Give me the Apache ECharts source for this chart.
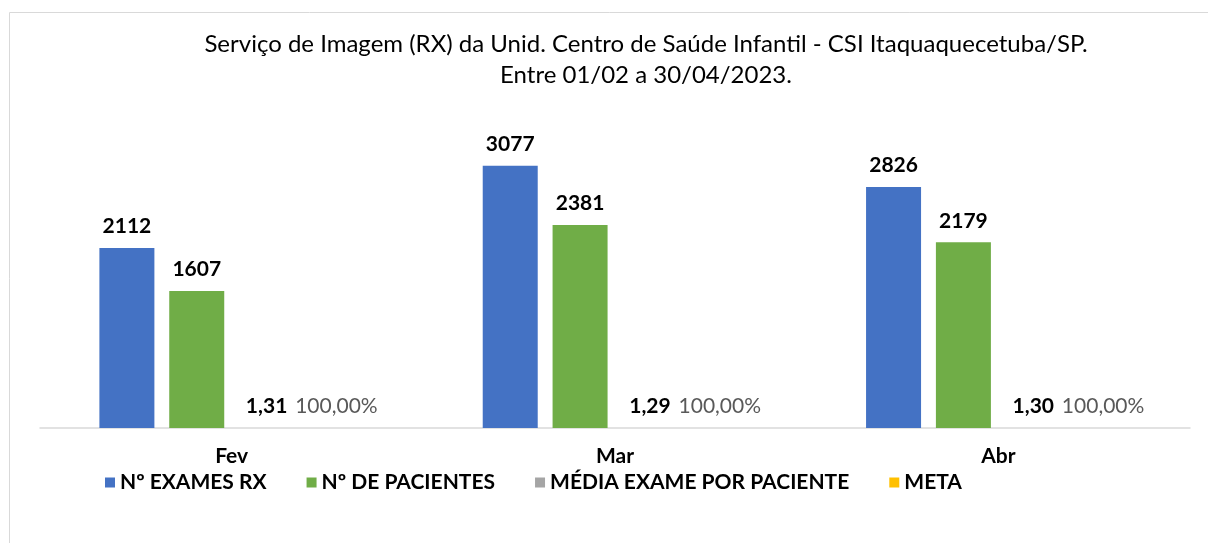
<!DOCTYPE html>
<html>
<head>
<meta charset="UTF-8">
<title>Serviço de Imagem (RX)</title>
<script src="https://cdn.jsdelivr.net/npm/echarts@6/dist/echarts.min.js"></script>
<style>
  html, body { margin: 0; padding: 0; background: #fff; }
  #main { width: 1208px; height: 543px; }
</style>
</head>
<body>
<div id="main"></div>
<script type="text/javascript">
    // dados do grafico
    var meses = ['Fev', 'Mar', 'Abr'];
    var examesRx = [2112, 3077, 2826];
    var pacientes = [1607, 2381, 2179];
    var mediaExame = [1.31, 1.29, 1.30];
    var meta = [1, 1, 1];

    var fonte = 'Lato, "Open Sans", sans-serif';

    function virgula(v, casas) {
        return v.toFixed(casas).replace('.', ',');
    }

    var myChart = echarts.init(document.getElementById('main'));

    var rotuloNegrito = {
        show: true,
        position: 'top',
        distance: 11,
        fontFamily: fonte,
        fontWeight: 'bold',
        fontSize: 21,
        color: '#000'
    };

    var option = {
        animation: false,
        textStyle: { fontFamily: fonte },
        title: {
            text: 'Serviço de Imagem (RX) da Unid. Centro de Saúde Infantil - CSI Itaquaquecetuba/SP.\nEntre 01/02 a 30/04/2023.',
            left: 641,
            top: 24,
            textAlign: 'center',
            textStyle: {
                fontFamily: fonte,
                fontWeight: 'normal',
                fontSize: 24,
                lineHeight: 31,
                color: '#000'
            }
        },
        graphic: [{
            type: 'rect',
            shape: { x: 9.5, y: 12.5, width: 1210, height: 560 },
            style: { fill: 'none', stroke: '#d9d9d9', lineWidth: 1 },
            silent: true
        }],
        legend: {
            data: ['Nº EXAMES RX', 'Nº DE PACIENTES', 'MÉDIA EXAME POR PACIENTE', 'META'],
            left: 100,
            top: 467,
            icon: 'rect',
            itemWidth: 10,
            itemHeight: 10,
            itemGap: 40,
            textStyle: {
                fontFamily: fonte,
                fontWeight: 'bold',
                fontSize: 21,
                color: '#000'
            }
        },
        grid: {
            left: 40,
            right: 18,
            top: 87,
            bottom: 115,
            containLabel: false
        },
        xAxis: {
            type: 'category',
            data: meses,
            axisLine: { lineStyle: { color: '#d9d9d9', width: 1.5 } },
            axisTick: { show: false },
            axisLabel: {
                margin: 18,
                fontFamily: fonte,
                fontWeight: 'bold',
                fontSize: 21,
                color: '#000'
            }
        },
        yAxis: {
            type: 'value',
            min: 0,
            max: 4000,
            show: false,
            splitLine: { show: false }
        },
        series: [{
            name: 'Nº EXAMES RX',
            type: 'bar',
            data: examesRx,
            barWidth: 55,
            barGap: '27%',
            itemStyle: { color: '#4472C4' },
            label: rotuloNegrito
        }, {
            name: 'Nº DE PACIENTES',
            type: 'bar',
            data: pacientes,
            barWidth: 55,
            itemStyle: { color: '#70AD47' },
            label: rotuloNegrito
        }, {
            name: 'MÉDIA EXAME POR PACIENTE',
            type: 'bar',
            data: mediaExame,
            barWidth: 55,
            itemStyle: { color: '#A5A5A5' },
            label: Object.assign({}, rotuloNegrito, {
                formatter: function (p) { return virgula(p.value, 2); }
            })
        }, {
            name: 'META',
            type: 'bar',
            data: meta,
            barWidth: 55,
            itemStyle: { color: '#FFC000' },
            label: Object.assign({}, rotuloNegrito, {
                fontWeight: 'normal',
                color: '#595959',
                formatter: function (p) { return virgula(p.value * 100, 2) + '%'; }
            })
        }]
    };

    myChart.setOption(option);
</script>
</body>
</html>
